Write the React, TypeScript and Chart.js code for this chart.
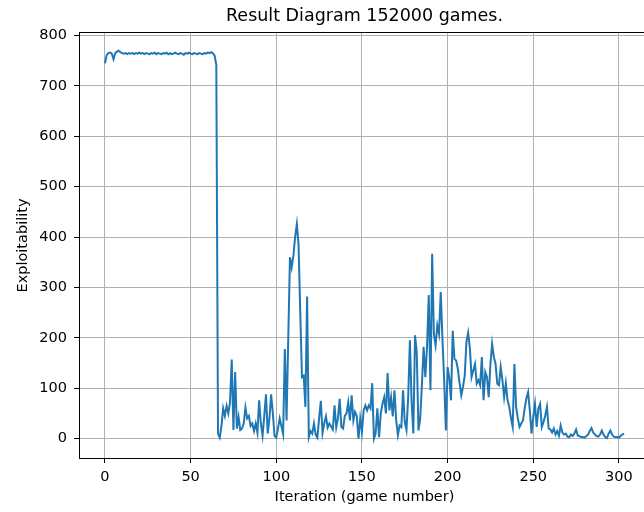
import React, { useEffect, useRef } from 'react';
import { Chart, registerables } from 'chart.js';

Chart.register(...registerables);

const TITLE = 'Result Diagram 152000 games.';
const X_LABEL = 'Iteration (game number)';
const Y_LABEL = 'Exploitability';

const xTicks = [0, 50, 100, 150, 200, 250, 300];
const yTicks = [0, 100, 200, 300, 400, 500, 600, 700, 800];

// exploitability per iteration (index = game number / iteration)
const exploitability = [
  745, 761, 765, 766, 764, 753, 765, 768, 770, 767,
  765, 764, 765, 763, 765, 764, 765, 763, 765, 764,
  766, 764, 765, 763, 765, 764, 763, 765, 764, 766,
  763, 765, 764, 763, 765, 764, 766, 763, 765, 763,
  764, 766, 764, 763, 765, 764, 762, 765, 764, 766,
  764, 763, 765, 764, 763, 765, 764, 763, 765, 764,
  766, 765, 767, 765, 760, 742, 10, 2, 25, 60,
  45, 65, 50, 72, 157, 17, 132, 20, 43, 17,
  20, 30, 62, 40, 45, 25, 30, 15, 30, 12,
  76, 30, 6, 45, 88, 10, 40, 88, 50, 5,
  2, 20, 40, 25, 9, 178, 36, 200, 360, 340,
  363, 400, 426, 386, 250, 122, 125, 63, 282, 3,
  15, 10, 30, 8, 2, 40, 75, 11, 30, 44,
  22, 30, 24, 18, 66, 22, 40, 79, 23, 20,
  45, 50, 72, 36, 86, 36, 53, 45, 0, 40,
  13, 56, 66, 56, 66, 60, 110, 0, 10, 60,
  3, 50, 69, 82, 50, 130, 56, 82, 44, 96,
  36, 7, 26, 23, 96, 33, 17, 82, 195, 73,
  10, 205, 172, 16, 39, 106, 182, 122, 182, 285,
  96, 367, 208, 185, 225, 208, 291, 198, 116, 16,
  142, 120, 76, 214, 158, 155, 138, 110, 86, 103,
  125, 192, 210, 180, 122, 135, 148, 109, 116, 106,
  162, 76, 132, 122, 82, 148, 188, 162, 148, 109,
  106, 142, 116, 82, 110, 76, 63, 40, 23, 148,
  63, 40, 23, 30, 36, 60, 80, 92, 56, 10,
  43, 69, 23, 60, 69, 23, 33, 46, 63, 20,
  18, 12, 20, 8, 15, 6, 26, 12, 8, 10,
  4, 3, 8, 5, 10, 18, 6, 5, 3, 3,
  2, 5, 8, 15, 21, 12, 8, 5, 4, 8,
  16, 8, 3, 1, 10, 16, 8, 4, 3, 3,
  2, 5, 8, 10,
];

const FONT = '"DejaVu Sans", "Liberation Sans", sans-serif';

const mplDecor = {
  id: 'mplDecor',
  beforeDraw(chart: any) {
    const ctx = chart.ctx;
    ctx.save();
    ctx.fillStyle = '#ffffff';
    ctx.fillRect(0, 0, chart.width, chart.height);
    ctx.restore();
  },
  afterDraw(chart: any) {
    const ctx = chart.ctx;
    const a = chart.chartArea;
    ctx.save();
    // top and right spines
    ctx.strokeStyle = '#000000';
    ctx.lineWidth = 1;
    ctx.beginPath();
    ctx.moveTo(a.left, Math.round(a.top) - 0.5);
    ctx.lineTo(a.right, Math.round(a.top) - 0.5);
    ctx.moveTo(Math.round(a.right) - 0.5, a.top);
    ctx.lineTo(Math.round(a.right) - 0.5, a.bottom);
    ctx.stroke();

    const cx = (a.left + a.right) / 2;
    ctx.fillStyle = '#000000';
    ctx.textAlign = 'center';
    ctx.textBaseline = 'alphabetic';
    ctx.font = `17.5px ${FONT}`;
    ctx.fillText(TITLE, cx, a.top - 12.3);

    ctx.font = `14.5px ${FONT}`;
    ctx.fillText(X_LABEL, cx, a.bottom + 43);

    ctx.translate(a.left - 52, (a.top + a.bottom) / 2);
    ctx.rotate(-Math.PI / 2);
    ctx.fillText(Y_LABEL, 0, 0);
    ctx.restore();
  },
};

export default function App() {
  const ref = useRef<HTMLCanvasElement | null>(null);

  useEffect(() => {
    if (!ref.current) return;
    const points = exploitability.map((v, i) => ({ x: i, y: v }));
    const chart = new Chart(ref.current, {
      type: 'line',
      data: {
        datasets: [
          {
            data: points,
            borderColor: '#1f77b4',
            backgroundColor: '#1f77b4',
            borderWidth: 2,
            pointRadius: 0,
            tension: 0,
            fill: false,
          },
        ],
      },
      options: {
        animation: false,
        responsive: false,
        maintainAspectRatio: false,
        devicePixelRatio: 1,
        layout: { padding: { left: 0, top: 33, right: 10, bottom: 0 } },
        plugins: {
          legend: { display: false },
          title: { display: false },
          tooltip: { enabled: false },
        },
        scales: {
          x: {
            type: 'linear',
            min: -15.15,
            max: 318.15,
            afterBuildTicks: (scale: any) => {
              scale.ticks = xTicks.map((v) => ({ value: v }));
            },
            afterFit: (scale: any) => {
              scale.height = 54;
            },
            grid: {
              color: '#b0b0b0',
              lineWidth: 1,
              drawTicks: true,
              tickLength: 5,
              tickColor: '#000000',
              tickWidth: 1,
            },
            border: { display: true, color: '#000000', width: 1 },
            ticks: {
              color: '#000000',
              font: { family: FONT, size: 14.5 },
              padding: 6,
              maxRotation: 0,
              autoSkip: false,
              callback: (v: any) => String(v),
            },
          },
          y: {
            type: 'linear',
            min: -38.5,
            max: 805,
            afterBuildTicks: (scale: any) => {
              scale.ticks = yTicks.map((v) => ({ value: v }));
            },
            afterFit: (scale: any) => {
              scale.width = 79;
            },
            grid: {
              color: '#b0b0b0',
              lineWidth: 1,
              drawTicks: true,
              tickLength: 5,
              tickColor: '#000000',
              tickWidth: 1,
            },
            border: { display: true, color: '#000000', width: 1 },
            ticks: {
              color: '#000000',
              font: { family: FONT, size: 14.5 },
              padding: 7,
              autoSkip: false,
              callback: (v: any) => String(v),
            },
          },
        },
      },
      plugins: [mplDecor],
    });
    return () => chart.destroy();
  }, []);

  return (
    <div
      style={{
        position: 'fixed',
        left: 0,
        top: 0,
        width: 644,
        height: 512,
        overflow: 'hidden',
        background: '#ffffff',
      }}
    >
      <canvas ref={ref} width={660} height={512} style={{ display: 'block', width: 660, height: 512 }} />
    </div>
  );
}
